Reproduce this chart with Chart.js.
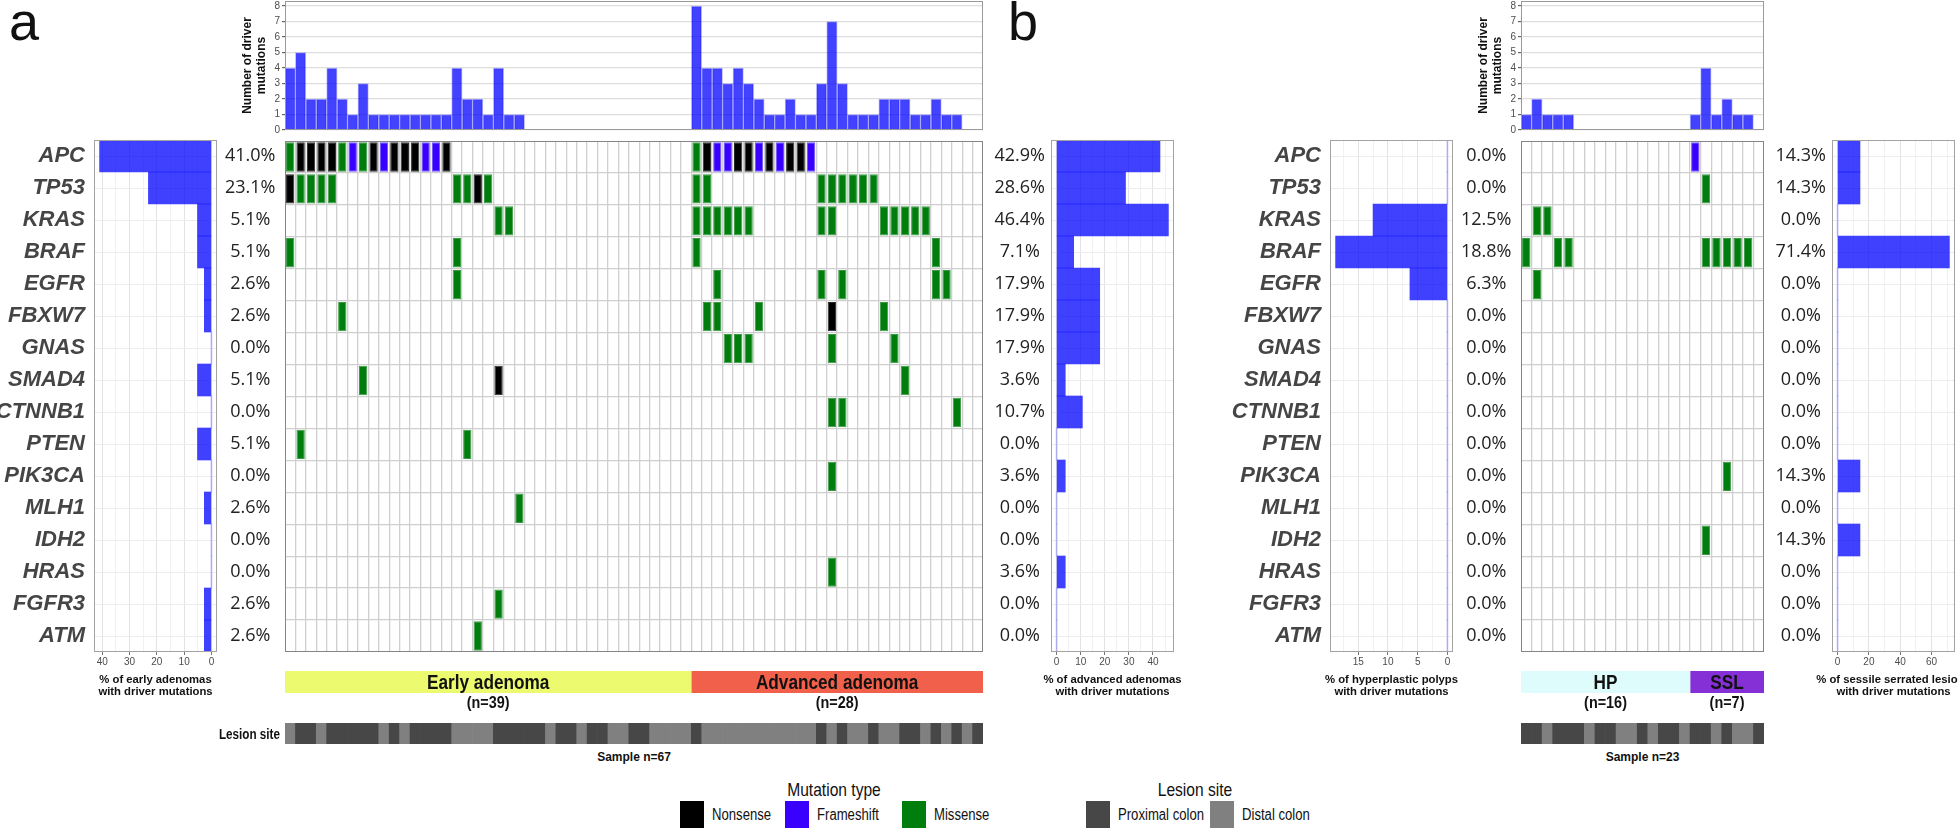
<!DOCTYPE html>
<html><head><meta charset="utf-8">
<script src="https://cdn.jsdelivr.net/npm/chart.js@4.4.1/dist/chart.umd.min.js"></script>
<style>
html,body{margin:0;padding:0;background:#fff;}
#root{position:relative;width:1958px;height:828px;overflow:hidden;background:#fff;font-family:"Liberation Sans",Arial,sans-serif;}
canvas{display:block;}
.t{position:absolute;white-space:nowrap;transform:translate(-50%,-50%);line-height:1;}
.ttl{font-weight:bold;font-size:11.3px;color:#111;}
.panel{position:absolute;font-size:54px;line-height:54px;color:#111;}
.sw{position:absolute;width:24px;height:27px;}
.lg{position:absolute;white-space:nowrap;font-size:16px;line-height:1;transform:translateY(-50%) scaleX(0.82);transform-origin:left center;color:#111;}
</style></head>
<body><div id="root"></div>
<script>
// ---------------- DATA ----------------
const genes = ['APC','TP53','KRAS','BRAF','EGFR','FBXW7','GNAS','SMAD4','CTNNB1','PTEN','PIK3CA','MLH1','IDH2','HRAS','FGFR3','ATM'];
const groupsA = ['Early adenoma','Advanced adenoma'];
const groupSizesA = [39, 28];
const groupsB = ['HP','SSL'];
const groupSizesB = [16, 7];
const mutationTypes = ['Nonsense','Frameshift','Missense'];
const siteTypes = ['Proximal colon','Distal colon'];
// number of driver mutations per sample (top bars)
const driverCountsA = [4,5,2,2,4,2,1,3,1,1,1,1,1,1,1,1,4,2,2,1,4,1,1,0,0,0,0,0,0,0,0,0,0,0,0,0,0,0,0,
                       8,4,4,3,4,3,2,1,1,2,1,1,3,7,3,1,1,1,2,2,2,1,1,2,1,1,0,0];
const driverCountsB = [1,2,1,1,1,0,0,0,0,0,0,0,0,0,0,0, 1,4,1,2,1,1,0];
// % of lesions with driver mutations per gene
const pctEarly = [41.0,23.1,5.1,5.1,2.6,2.6,0.0,5.1,0.0,5.1,0.0,2.6,0.0,0.0,2.6,2.6];
const pctAdv   = [42.9,28.6,46.4,7.1,17.9,17.9,17.9,3.6,10.7,0.0,3.6,0.0,0.0,3.6,0.0,0.0];
const pctHP    = [0.0,0.0,12.5,18.8,6.3,0.0,0.0,0.0,0.0,0.0,0.0,0.0,0.0,0.0,0.0,0.0];
const pctSSL   = [14.3,14.3,0.0,71.4,0.0,0.0,0.0,0.0,0.0,0.0,14.3,0.0,14.3,0.0,0.0,0.0];
// mutation per gene: "sampleIndex+type"  N=nonsense F=frameshift G=missense
const mutA = [
  '0G 1N 2N 3N 4N 5G 6F 7G 8N 9F 10N 11N 12N 13F 14F 15N 39G 40N 41F 42F 43N 44N 45F 46N 47F 48N 49N 50F',
  '0N 1G 2G 3G 4G 16G 17G 18N 19G 39G 40G 51G 52G 53G 54G 55G 56G',
  '20G 21G 39G 40G 41G 42G 43G 44G 51G 52G 57G 58G 59G 60G 61G',
  '0G 16G 39G 62G',
  '16G 41G 51G 53G 62G 63G',
  '5G 40G 41G 45G 52N 57G',
  '42G 43G 44G 52G 58G',
  '7G 20N 59G',
  '52G 53G 64G',
  '1G 17G',
  '52G',
  '22G',
  '',
  '52G',
  '20G',
  '18G'
];
const mutB = [
  '16F','17G','1G 2G','0G 3G 4G 17G 18G 19G 20G 21G','1G','','','','','','19G','','17G','','',''
];
// lesion site per sample: P=proximal, D=distal
const siteA = 'DPPDPPPPPDPDPPPPDDDDPPPPPDPPDPPDDPPDDDD' + 'PDDDDDDDDDDDPDPDDPDDPPDPDPDP';
const siteB = 'PPDPPPDPPDDPDPPD' + 'PPDPDDP';

// ---------------- STYLE ----------------
const typeColor = {N:'#000000', F:'#3A00FF', G:'#007E0D'};
const typeBorder = {N:'#2a2a2a', F:'#6a50ff', G:'#3c9a44'};
const siteColor = {P:'#474747', D:'#808080'};
const SANS = '"Liberation Sans",Arial,sans-serif';
Chart.defaults.font.family = SANS;
const root = document.getElementById('root');

function makeCanvas(left, top, w, h) {
  const c = document.createElement('canvas');
  c.width = w; c.height = h;
  c.style.cssText = `position:absolute;left:${left}px;top:${top}px;width:${w}px;height:${h}px;`;
  root.appendChild(c);
  return c;
}
function baseOpts(extra) {
  return Object.assign({responsive:false, maintainAspectRatio:false, animation:false, devicePixelRatio:1, events:[],
    plugins:{legend:{display:false}, tooltip:{enabled:false}}}, extra);
}
function frame(color, lw) {
  return {id:'frame', afterDraw(chart){
    const {ctx, chartArea:a} = chart; ctx.save(); ctx.strokeStyle = color; ctx.lineWidth = lw;
    const o = lw % 2 ? 0.5 : 0;
    ctx.strokeRect(Math.round(a.left)+o, Math.round(a.top)+o, Math.round(a.right-a.left)-2*o, Math.round(a.bottom-a.top)-2*o);
    ctx.restore(); }};
}
function sampleLabels(sizes, prefixes) {
  const out = [];
  sizes.forEach((n, g) => { for (let i = 1; i <= n; i++) out.push(prefixes[g] + i); });
  return out;
}
const labelsA = sampleLabels(groupSizesA, ['E','A']);
const labelsB = sampleLabels(groupSizesB, ['H','S']);

// ---------- top bar charts ----------
function topChart(left, width, plotW, labels, counts) {
  const c = makeCanvas(left, 0, width, 137);
  new Chart(c, {
    type:'bar',
    data:{labels, datasets:[{data:counts, backgroundColor:'rgba(0,0,255,0.74)', borderColor:'rgba(0,0,255,0.28)',
      borderWidth:1, borderSkipped:'bottom', barPercentage:1, categoryPercentage:1}]},
    options: baseOpts({
      layout:{padding:{top:1, right:width-55-plotW, bottom:7, left:0}},
      scales:{
        x:{display:false},
        y:{min:0, max:8.32,
           ticks:{stepSize:1, includeBounds:false, font:{size:10}, color:'#4d4d4d', padding:2},
           grid:{color:'#dedede', lineWidth:1.2, tickLength:3, tickColor:'#666'},
           border:{display:false},
           title:{display:true, text:['Number of driver','mutations'], font:{size:12, weight:'bold'}, color:'#111', padding:{top:10, bottom:0}},
           afterFit(s){ s.width = 55; s.paddingTop = 0; s.paddingBottom = 0; }}
      }
    }),
    plugins:[frame('#9a9a9a', 1)]
  });
}
topChart(230, 760, 698, labelsA, driverCountsA);
topChart(1466, 310, 243, labelsB, driverCountsB);

// ---------- oncoprint grids ----------
function gridChart(left, width, labels, muts) {
  const c = makeCanvas(left, 141, width, 511);
  const datasets = genes.map((g, gi) => {
    const codes = new Array(labels.length).fill(null);
    muts[gi].split(' ').filter(Boolean).forEach(tok => { codes[parseInt(tok, 10)] = tok.replace(/[0-9]/g, ''); });
    return {label:g, data:codes.map(cd => cd ? [gi+0.04, gi+0.96] : null),
      backgroundColor:codes.map(cd => cd ? typeColor[cd] : 'rgba(0,0,0,0)'),
      borderColor:codes.map(cd => cd ? typeBorder[cd] : 'rgba(0,0,0,0)'),
      borderWidth:1, borderSkipped:false, barPercentage:0.8, categoryPercentage:1, grouped:false};
  });
  new Chart(c, {
    type:'bar', data:{labels, datasets},
    options: baseOpts({
      layout:{padding:0},
      scales:{
        x:{ticks:{display:false}, grid:{color:'#cfcfcf', lineWidth:1.3, drawTicks:false, offset:true}, border:{display:false},
           afterFit(s){ s.height = 0; s.paddingLeft = 0; s.paddingRight = 0; }},
        y:{min:0, max:genes.length, reverse:true, ticks:{display:false, stepSize:1}, grid:{color:'#cfcfcf', lineWidth:1.3, drawTicks:false},
           border:{display:false}, afterFit(s){ s.width = 0; s.paddingTop = 0; s.paddingBottom = 0; }}
      }
    }),
    plugins:[frame('#858585', 2)]
  });
}
gridChart(285, 698, labelsA, mutA);
gridChart(1521, 243, labelsB, mutB);

// ---------- group (lesion type) bars ----------
function scaledText(ctx, s, x, y, font, sx) {
  ctx.save(); ctx.font = font; ctx.translate(x, y); ctx.scale(sx, 1); ctx.fillText(s, 0, 0); ctx.restore();
}
function groupChart(left, width, names, sizes, colors) {
  const c = makeCanvas(left, 671, width, 46);
  const total = sizes.reduce((a, b) => a + b, 0);
  new Chart(c, {
    type:'bar',
    data:{labels:['group'], datasets:sizes.map((s, i) => ({label:names[i], data:[s], backgroundColor:colors[i],
      borderWidth:0, barPercentage:1, categoryPercentage:1}))},
    options: baseOpts({
      indexAxis:'y',
      layout:{padding:{top:0, bottom:24, left:0, right:0}},
      scales:{x:{stacked:true, display:false, min:0, max:total}, y:{stacked:true, display:false}}
    }),
    plugins:[{id:'gtext', afterDatasetsDraw(chart){
      const ctx = chart.ctx; ctx.save(); ctx.textAlign = 'center'; ctx.textBaseline = 'middle'; ctx.fillStyle = '#111';
      chart.data.datasets.forEach((ds, i) => {
        const el = chart.getDatasetMeta(i).data[0];
        const cx = (el.x + el.base) / 2;
        scaledText(ctx, names[i], cx, el.y + 1, 'bold 20px ' + SANS, 0.86);
        scaledText(ctx, '(n=' + sizes[i] + ')', cx, el.y + 22, 'bold 16px ' + SANS, 0.9);
      });
      ctx.restore(); }}]
  });
}
groupChart(285, 698, groupsA, groupSizesA, ['#EBFA6E', '#F0604A']);
groupChart(1521, 243, groupsB, groupSizesB, ['#DFFCFC', '#8430D6']);

// ---------- lesion site bars ----------
function siteChart(left, width, labels, sites) {
  const c = makeCanvas(left, 723, width, 21);
  new Chart(c, {
    type:'bar',
    data:{labels, datasets:[{data:labels.map(() => 1), backgroundColor:sites.split('').map(s => siteColor[s]),
      borderWidth:0, barPercentage:1, categoryPercentage:1}]},
    options: baseOpts({layout:{padding:0}, scales:{x:{display:false}, y:{display:false, min:0, max:1}}})
  });
}
siteChart(285, 698, labelsA, siteA);
siteChart(1521, 243, labelsB, siteB);

// ---------- % of lesions bars ----------
const pctFont = {family:'"Open Sans","Liberation Sans",sans-serif', size:18};
const geneFont = {family:SANS, size:22, weight:'bold', style:'italic'};
function pctChart(cfg) {
  const c = makeCanvas(cfg.left, 135, cfg.width, 570);
  const pctLabels = cfg.values.map(v => v.toFixed(1) + '%');
  const isMajor = ctx => ctx.tick && Math.abs(ctx.tick.value % cfg.major) < 1e-6;
  const scales = {
    x:{type:'linear', reverse:cfg.reverse, min:cfg.min, max:cfg.max,
       ticks:{stepSize:cfg.step, includeBounds:false, autoSkip:false, maxRotation:0, font:{size:10}, color:'#4d4d4d', padding:1,
              callback:v => (Math.abs(v % cfg.major) < 1e-6 ? String(v) : '')},
       grid:{color:ctx => isMajor(ctx) ? '#e3e3e3' : '#f1f1f1', lineWidth:1, tickLength:3,
             tickColor:ctx => isMajor(ctx) ? '#777' : 'rgba(0,0,0,0)'},
       border:{display:false},
       afterFit(s){ s.height = 53; s.paddingLeft = 0; s.paddingRight = 0; }}
  };
  const yTicks = cfg.genesAxis
    ? {font:geneFont, color:'#454545', padding:9, crossAlign:'near', autoSkip:false}
    : {font:pctFont, color:'#222', padding:6, crossAlign:'center', autoSkip:false, callback:(v, i) => pctLabels[i]};
  scales.y = {type:'category', position:'left', offset:true, ticks:yTicks,
    grid:{offset:false, color:'#ececec', drawTicks:false}, border:{display:false},
    afterFit(s){ s.width = cfg.yW; s.paddingTop = 0; s.paddingBottom = 0; }};
  if (cfg.genesAxis) {
    scales.y2 = {type:'category', labels:pctLabels, position:'right', offset:true,
      ticks:{font:pctFont, color:'#222', padding:8, crossAlign:'center', autoSkip:false},
      grid:{display:false, drawTicks:false}, border:{display:false},
      afterFit(s){ s.width = 68; s.paddingTop = 0; s.paddingBottom = 0; }};
  }
  new Chart(c, {
    type:'bar',
    data:{labels:genes, datasets:[{data:cfg.values,
      backgroundColor:cfg.values.map(v => v === 0 ? 'rgba(70,70,255,0.35)' : 'rgba(0,0,255,0.75)'),
      minBarLength:1, borderWidth:0, barPercentage:1, categoryPercentage:1}]},
    options: baseOpts({indexAxis:'y', layout:{padding:{top:5, bottom:0, left:0, right:cfg.padRight}}, scales}),
    plugins:[frame('#a3a3a3', 1)]
  });
}
pctChart({left:0, width:285, values:pctEarly, genesAxis:true, yW:94, padRight:0, reverse:true, min:-2.05, max:43.05, step:5, major:10});
pctChart({left:985, width:205, values:pctAdv, genesAxis:false, yW:66, padRight:16, reverse:false, min:-2.32, max:48.72, step:5, major:10});
pctChart({left:1200, width:321, values:pctHP, genesAxis:true, yW:130, padRight:0, reverse:true, min:-0.94, max:19.74, step:2.5, major:5});
pctChart({left:1764, width:194, values:pctSSL, genesAxis:false, yW:68, padRight:3, reverse:false, min:-3.57, max:74.97, step:10, major:20});

// ---------- HTML texts ----------
function txt(x, y, s, cls, style) {
  const d = document.createElement('div'); d.className = 't ' + (cls || ''); d.textContent = s;
  d.style.left = x + 'px'; d.style.top = y + 'px'; if (style) d.style.cssText += style; root.appendChild(d); return d;
}
[[155.5,'% of early adenomas'],[1112.5,'% of advanced adenomas'],[1391.5,'% of hyperplastic polyps'],[1893.5,'% of sessile serrated lesions']]
  .forEach(([x, s]) => { txt(x, 680, s, 'ttl'); txt(x, 692, 'with driver mutations', 'ttl'); });

const pa = document.createElement('div'); pa.className = 'panel'; pa.textContent = 'a'; pa.style.left = '9px'; pa.style.top = '-6px'; root.appendChild(pa);
const pb = document.createElement('div'); pb.className = 'panel'; pb.textContent = 'b'; pb.style.left = '1008px'; pb.style.top = '-6px'; root.appendChild(pb);

txt(280, 733, 'Lesion site', '', 'font-weight:bold;font-size:15px;color:#111;transform:translate(-100%,-50%) scaleX(0.78);transform-origin:right center;');
txt(634, 757, 'Sample n=' + labelsA.length, '', 'font-weight:bold;font-size:12px;color:#111;');
txt(1642.5, 757, 'Sample n=' + labelsB.length, '', 'font-weight:bold;font-size:12px;color:#111;');

// legend
txt(834, 789, 'Mutation type', '', 'font-size:19px;color:#111;transform:translate(-50%,-50%) scaleX(0.82);');
txt(1195, 789, 'Lesion site', '', 'font-size:19px;color:#111;transform:translate(-50%,-50%) scaleX(0.82);');
function legendItem(x, color, label) {
  const s = document.createElement('div'); s.className = 'sw'; s.style.left = x + 'px'; s.style.top = '801px'; s.style.background = color; root.appendChild(s);
  const l = document.createElement('div'); l.className = 'lg'; l.textContent = label; l.style.left = (x + 32) + 'px'; l.style.top = '815px'; root.appendChild(l);
}
legendItem(680, typeColor.N, mutationTypes[0]);
legendItem(785, typeColor.F, mutationTypes[1]);
legendItem(902, typeColor.G, mutationTypes[2]);
legendItem(1086, siteColor.P, siteTypes[0]);
legendItem(1210, siteColor.D, siteTypes[1]);
</script>
</body></html>
